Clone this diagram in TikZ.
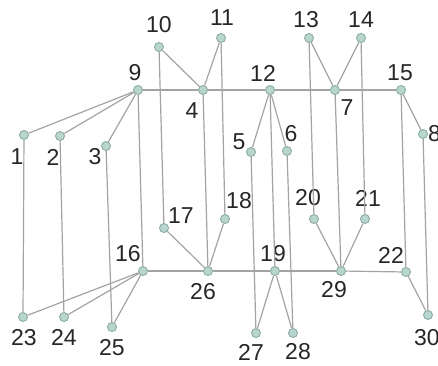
\documentclass[tikz,border=0pt]{standalone}
\usepackage{fontspec}
\setmainfont{Liberation Sans}
\usetikzlibrary{positioning}

\definecolor{vfill}{HTML}{B8D6CE}
\definecolor{vdraw}{HTML}{8AABA3}
\definecolor{edgegray}{HTML}{A3A3A3}

\begin{document}
\begin{tikzpicture}[
    x=1pt, y=-1pt,
    vtx/.style={
        circle,
        draw=vdraw,
        fill=vfill,
        line width=0.9pt,
        inner sep=0pt,
        minimum size=9pt
    },
    num/.style={
        inner sep=0pt,
        text=black!85,
        font=\fontsize{23}{24}\selectfont
    },
    edge/.style={
        draw=edgegray,
        line width=1.2pt
    }
]
\useasboundingbox (0,0) rectangle (438,365);

% Upper row
\node[vtx] (v9) at (138,90) {};
\node[vtx] (v4) at (203,90) {};
\node[vtx] (v12) at (270,90) {};
\node[vtx] (v7) at (335,90) {};
\node[vtx] (v15) at (401,90) {};
\node[vtx] (v10) at (159,47) {};
\node[vtx] (v11) at (221,38) {};
\node[vtx] (v13) at (309,38) {};
\node[vtx] (v14) at (361,38) {};
\node[vtx] (v1) at (24,135) {};
\node[vtx] (v2) at (60,136) {};
\node[vtx] (v3) at (106,146) {};
\node[vtx] (v5) at (251,152) {};
\node[vtx] (v6) at (287,151) {};
\node[vtx] (v8) at (423,134) {};

% Lower row
\node[vtx] (v16) at (143,271) {};
\node[vtx] (v26) at (208,271) {};
\node[vtx] (v19) at (275,271) {};
\node[vtx] (v29) at (341,271) {};
\node[vtx] (v22) at (406,272) {};
\node[vtx] (v17) at (164,228) {};
\node[vtx] (v18) at (225,219) {};
\node[vtx] (v20) at (314,219) {};
\node[vtx] (v21) at (365,219) {};
\node[vtx] (v23) at (23,317) {};
\node[vtx] (v24) at (64,317) {};
\node[vtx] (v25) at (112,327) {};
\node[vtx] (v27) at (256,333) {};
\node[vtx] (v28) at (293,333) {};
\node[vtx] (v30) at (428,315) {};

% Labels
\node[num] (t1) at (17,157) {1};
\node[num] (t2) at (53,157) {2};
\node[num] (t3) at (95,157) {3};
\node[num] (t4) at (192,111) {4};
\node[num] (t5) at (239,142) {5};
\node[num] (t6) at (291,134) {6};
\node[num] (t7) at (347,108) {7};
\node[num, anchor=west] (t8) at (428,134) {8};
\node[num] (t9) at (135,73) {9};
\node[num] (t10) at (159,25) {10};
\node[num] (t11) at (222,18) {11};
\node[num] (t12) at (263,73) {12};
\node[num] (t13) at (306,20) {13};
\node[num] (t14) at (361,20) {14};
\node[num] (t15) at (400,73) {15};
\node[num] (t16) at (128,254) {16};
\node[num] (t17) at (181,216) {17};
\node[num] (t18) at (239,201) {18};
\node[num] (t19) at (273,254) {19};
\node[num] (t20) at (308,198) {20};
\node[num] (t21) at (368,198) {21};
\node[num] (t22) at (391,255) {22};
\node[num] (t23) at (24,338) {23};
\node[num] (t24) at (64,337) {24};
\node[num] (t25) at (112,348) {25};
\node[num] (t26) at (203,292) {26};
\node[num] (t27) at (251,352) {27};
\node[num] (t28) at (298,352) {28};
\node[num] (t29) at (334,290) {29};
\node[num, anchor=west] (t30) at (414,338) {30};

% Edges, upper part
\draw[edge] (v9) -- (v4);
\draw[edge] (v4) -- (v12);
\draw[edge] (v12) -- (v7);
\draw[edge] (v7) -- (v15);
\draw[edge] (v9) -- (v1);
\draw[edge] (v9) -- (v2);
\draw[edge] (v9) -- (v3);
\draw[edge] (v10) -- (v4);
\draw[edge] (v11) -- (v4);
\draw[edge] (v12) -- (v5);
\draw[edge] (v12) -- (v6);
\draw[edge] (v13) -- (v7);
\draw[edge] (v14) -- (v7);
\draw[edge] (v15) -- (v8);

% Edges, verticals
\draw[edge] (v1) -- (v23);
\draw[edge] (v2) -- (v24);
\draw[edge] (v3) -- (v25);
\draw[edge] (v9) -- (v16);
\draw[edge] (v10) -- (v17);
\draw[edge] (v4) -- (v26);
\draw[edge] (v11) -- (v18);
\draw[edge] (v5) -- (v27);
\draw[edge] (v12) -- (v19);
\draw[edge] (v6) -- (v28);
\draw[edge] (v13) -- (v20);
\draw[edge] (v7) -- (v29);
\draw[edge] (v14) -- (v21);
\draw[edge] (v15) -- (v22);
\draw[edge] (v8) -- (v30);

% Edges, lower part
\draw[edge] (v16) -- (v26);
\draw[edge] (v26) -- (v19);
\draw[edge] (v19) -- (v29);
\draw[edge] (v29) -- (v22);
\draw[edge] (v16) -- (v23);
\draw[edge] (v16) -- (v24);
\draw[edge] (v16) -- (v25);
\draw[edge] (v17) -- (v26);
\draw[edge] (v18) -- (v26);
\draw[edge] (v19) -- (v27);
\draw[edge] (v19) -- (v28);
\draw[edge] (v20) -- (v29);
\draw[edge] (v21) -- (v29);
\draw[edge] (v22) -- (v30);

\end{tikzpicture}
\end{document}
